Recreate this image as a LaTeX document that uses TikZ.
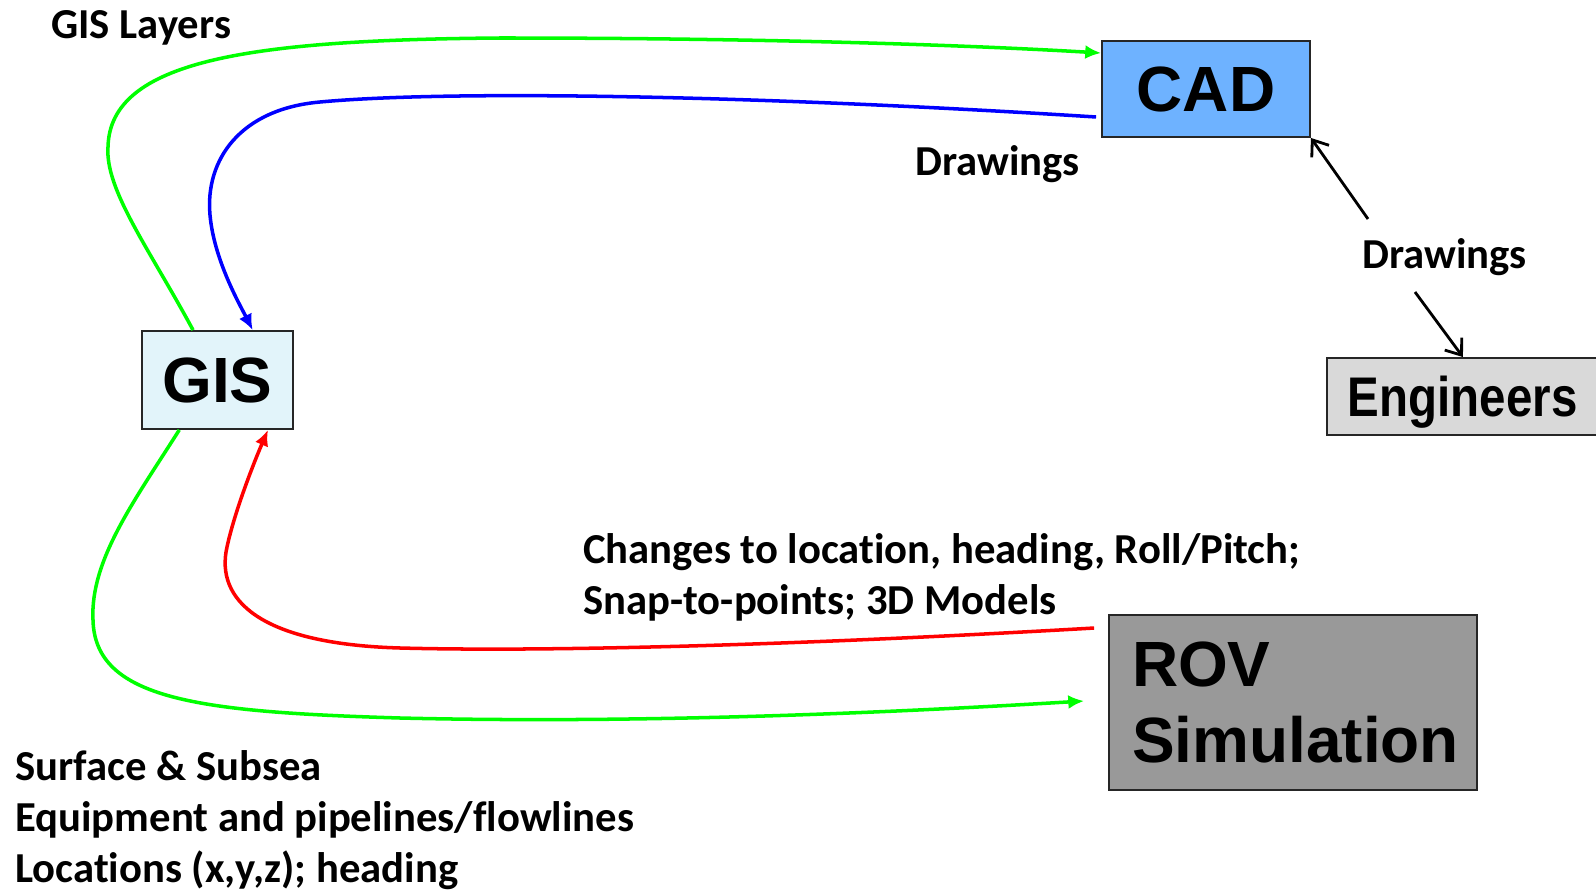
\documentclass[tikz,border=0pt]{standalone}
\usepackage{fontspec}
\setmainfont[Ligatures=NoCommon]{Carlito}
\newfontfamily\boxfont{Liberation Sans}
\usetikzlibrary{calc, positioning}
\usetikzlibrary{arrows.meta}
\definecolor{cadblue}{RGB}{110,178,255}
\definecolor{gisblue}{RGB}{226,244,250}
\definecolor{enggray}{RGB}{217,217,217}
\definecolor{rovgray}{RGB}{153,153,153}
\definecolor{flowgreen}{RGB}{0,255,0}
\tikzset{
  % Label text
  lbl/.style={inner sep=0pt, font=\bfseries\fontsize{24.3}{29}\selectfont,
    align=left},
  % Box node
  bnode/.style={draw=black!85, line width=1.1pt, inner sep=0pt,
    font=\boxfont\bfseries\fontsize{36.4}{43.2}\selectfont},
  % Curved flows
  flow/.style={line width=2pt, -{Latex[length=9pt, width=8pt]}},
  gline/.style={flow, flowgreen},
  bline/.style={flow, blue},
  rline/.style={flow, red},
  % Straight arrows
  dline/.style={line width=1.6pt, -{Straight Barb[length=8pt, width=12pt]}},
}
\begin{document}
\begin{tikzpicture}[x=0.02cm, y=-0.02cm]
  \useasboundingbox (0,0) rectangle (1596,892);

  \node[bnode, fill=cadblue, minimum width=4.16cm, minimum height=1.92cm]
    (cad) at (1206,89) {CAD};
  \node[bnode, fill=gisblue, minimum width=3.02cm, minimum height=1.96cm]
    (gis) at (217.5,380) {GIS};
  \node[bnode, fill=enggray, anchor=west, minimum height=1.54cm,
    inner xsep=0.42cm, text width=4.8cm, text depth=0pt, align=left,
    font=\boxfont\bfseries\fontsize{31.8}{38}\selectfont]
    (eng) at (1326,396.5) {\scalebox{0.85}[1]{Engineers}};
  \node[bnode, fill=rovgray, minimum width=7.36cm, minimum height=3.5cm,
    inner xsep=0.46cm, text width=6.44cm, align=left]
    (rov) at (1293,702.5) {ROV\\Simulation};

  \node[lbl, anchor=base west] (lyr) at (51,39) {GIS Layers};
  \node[lbl, anchor=base west] (drwa) at (915,175) {Drawings};
  \node[lbl, anchor=base west] (drwb) at (1362,268) {Drawings};
  \node[lbl, anchor=north west] (chg) at (583,533)
    {Changes to location, heading, Roll/Pitch;\\Snap-to-points; 3D Models};
  \node[lbl, anchor=north west] (srf) at (15,750)
    {Surface \& Subsea\\Equipment and pipelines/flowlines\\Locations (x,y,z); heading};

  % GIS <-> CAD
  \draw[gline] ($(gis.north west)!0.34!(gis.north east)$)
    .. controls (150,250) and (105,190) .. (108,147)
    .. controls (110,60) and (250,40) .. (500,38)
    .. controls (800,38) and (1000,47) .. ([yshift=0.72cm]cad.west);
  \draw[bline] ([xshift=-0.1cm, yshift=-0.56cm]cad.west)
    .. controls (750,95) and (450,90) .. (320,102)
    .. controls (240,109) and (205,160) .. (210,215)
    .. controls (214,260) and (240,305) .. ($(gis.north west)!0.73!(gis.north east)$);

  % GIS <-> ROV
  \draw[rline] ([xshift=-0.28cm, yshift=1.49cm]rov.west)
    .. controls (800,645) and (550,652) .. (400,648)
    .. controls (260,644) and (215,600) .. (227,547)
    .. controls (235,510) and (255,460) .. ($(gis.south west)!0.83!(gis.south east)$);
  \draw[gline] ($(gis.south west)!0.25!(gis.south east)$)
    .. controls (135,500) and (90,560) .. (93,620)
    .. controls (95,700) and (200,712) .. (400,718)
    .. controls (650,724) and (900,712) .. ([xshift=-0.48cm, yshift=0.03cm]rov.west);

  % Drawings
  \coordinate (dta) at ([shift={(6,-49)}]drwb.base west);
  \coordinate (dtb) at ([shift={(53,24)}]drwb.base west);
  \draw[dline] (dta) -- (cad.south east);
  \draw[dline] (dtb) -- ([xshift=-0.1cm]eng.north);
\end{tikzpicture}
\end{document}
